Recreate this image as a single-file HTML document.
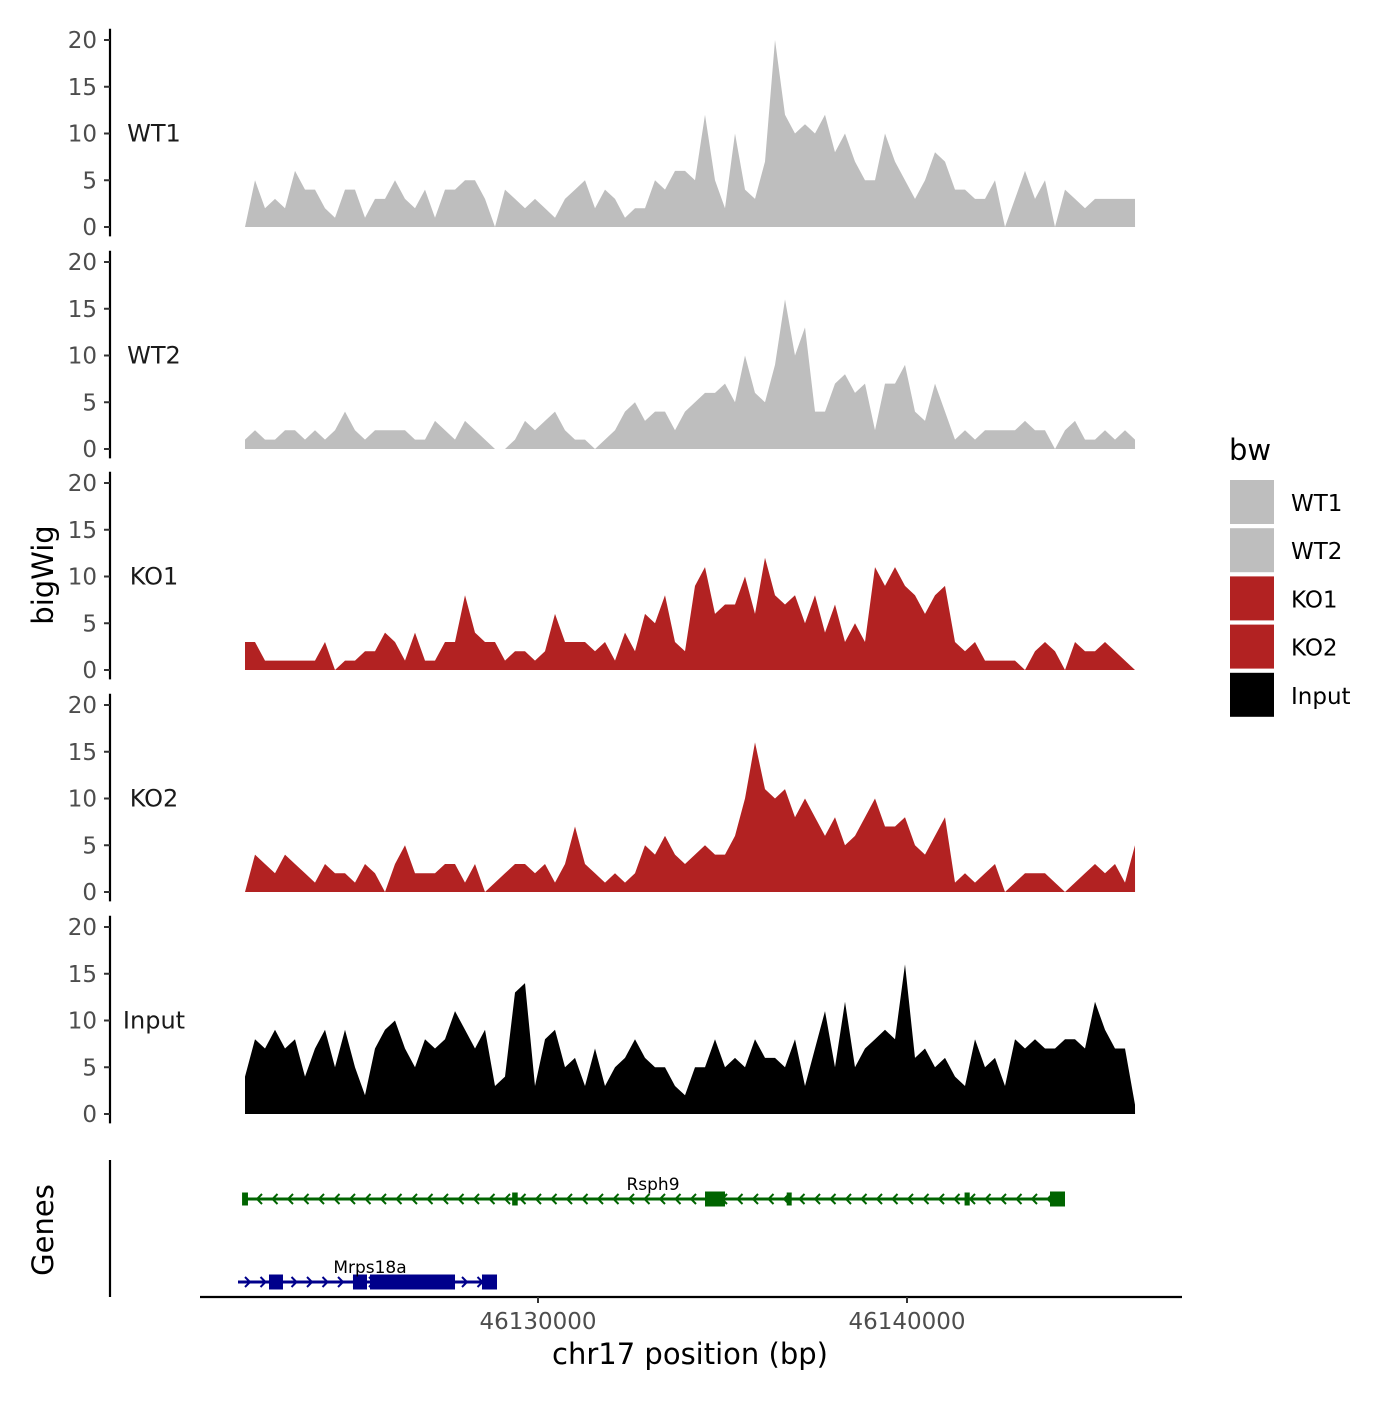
<!DOCTYPE html>
<html><head><meta charset="utf-8"><style>
body{margin:0;background:#fff}
svg{font-family:"DejaVu Sans","Liberation Sans",sans-serif}
</style></head><body>
<svg id="chart" width="1400" height="1400" viewBox="0 0 1400 1400"></svg>
<script>
const trackNames=["WT1","WT2","KO1","KO2","Input"];
const trackColors=["#bebebe","#bebebe","#b22222","#b22222","#000000"];
const yTicks=[0,5,10,15,20];
const xTicks=[46130000,46140000];
const wt1=[0,5,2,3,2,6,4,4,2,1,4,4,1,3,3,5,3,2,4,1,4,4,5,5,3,0,4,3,2,3,2,1,3,4,5,2,4,3,1,2,2,5,4,6,6,5,12,5,2,10,4,3,7,20,12,10,11,10,12,8,10,7,5,5,10,7,5,3,5,8,7,4,4,3,3,5,0,3,6,3,5,0,4,3,2,3,3,3,3,3];
const wt2=[1,2,1,1,2,2,1,2,1,2,4,2,1,2,2,2,2,1,1,3,2,1,3,2,1,0,0,1,3,2,3,4,2,1,1,0,1,2,4,5,3,4,4,2,4,5,6,6,7,5,10,6,5,9,16,10,13,4,4,7,8,6,7,2,7,7,9,4,3,7,4,1,2,1,2,2,2,2,3,2,2,0,2,3,1,1,2,1,2,1];
const ko1=[3,3,1,1,1,1,1,1,3,0,1,1,2,2,4,3,1,4,1,1,3,3,8,4,3,3,1,2,2,1,2,6,3,3,3,2,3,1,4,2,6,5,8,3,2,9,11,6,7,7,10,6,12,8,7,8,5,8,4,7,3,5,3,11,9,11,9,8,6,8,9,3,2,3,1,1,1,1,0,2,3,2,0,3,2,2,3,2,1,0];
const ko2=[0,4,3,2,4,3,2,1,3,2,2,1,3,2,0,3,5,2,2,2,3,3,1,3,0,1,2,3,3,2,3,1,3,7,3,2,1,2,1,2,5,4,6,4,3,4,5,4,4,6,10,16,11,10,11,8,10,8,6,8,5,6,8,10,7,7,8,5,4,6,8,1,2,1,2,3,0,1,2,2,2,1,0,1,2,3,2,3,1,5];
const inputV=[4,8,7,9,7,8,4,7,9,5,9,5,2,7,9,10,7,5,8,7,8,11,9,7,9,3,4,13,14,3,8,9,5,6,3,7,3,5,6,8,6,5,5,3,2,5,5,8,5,6,5,8,6,6,5,8,3,7,11,5,12,5,7,8,9,8,16,6,7,5,6,4,3,8,5,6,3,8,7,8,7,7,8,8,7,12,9,7,7,1];
const seriesList=[wt1,wt2,ko1,ko2,inputV];
const dataStart=46122060, dataEnd=46146180;
const geneNames=["Rsph9","Mrps18a"];
const geneStarts=[46122060,46121870];
const geneEnds=[46144080,46128889];
const rsph9ExonStarts=[46121980,46129300,46134526,46136740,46141560,46143875];
const rsph9ExonEnds=[46122140,46129450,46135068,46136860,46141700,46144282];
const mrpsExonStarts=[46122710,46124986,46125447,46128482];
const mrpsExonEnds=[46123089,46125366,46127751,46128889];

const NS="http://www.w3.org/2000/svg";
const svg=document.getElementById('chart');
function mk(tag,attrs,parent){const e=document.createElementNS(NS,tag);for(const k in attrs)e.setAttribute(k,attrs[k]);(parent||svg).appendChild(e);return e;}
function xs(bp){return 538+(bp-46130000)/10000*369;}
const panelZero=[227,449,670,892,1114];
function ys(i,v){return panelZero[i]-v*9.35;}

trackNames.forEach((name,i)=>{
  const g=mk('g',{});
  
  
  const vals=seriesList[i];const n=vals.length;
  let d='M'+xs(dataStart)+','+ys(i,0);
  vals.forEach((v,j)=>{const bp=dataStart+(dataEnd-dataStart)*j/(n-1);d+=' L'+xs(bp).toFixed(1)+','+ys(i,v).toFixed(1);});
  d+=' L'+xs(dataEnd)+','+ys(i,0)+' Z';
  const p=mk('path',{d:d,fill:trackColors[i]},g);
  
  
  const ax=mk('line',{x1:110,x2:110,y1:ys(i,21.2),y2:ys(i,-1),stroke:'#000','stroke-width':2.2},g);
  
  
  yTicks.forEach(t=>{
    mk('line',{x1:104,x2:110,y1:ys(i,t),y2:ys(i,t),stroke:'#333','stroke-width':2},g);
    const tx=mk('text',{x:97,y:ys(i,t)+8,'text-anchor':'end','font-size':23,fill:'#4d4d4d'},g);
    tx.textContent=t;
    
    
  });
  const lb=mk('text',{x:154,y:ys(i,10)+8,'text-anchor':'middle','font-size':24,fill:'#1a1a1a'},g);
  lb.textContent=name;
  
  
});

const gy=[1199,1282], gc=['#006400','#00008b'];
geneNames.forEach((gname,k)=>{
  const g=mk('g',{});
  
  
  const x1=xs(geneStarts[k]),x2=xs(geneEnds[k]);
  mk('line',{x1:x1,x2:x2,y1:gy[k],y2:gy[k],stroke:gc[k],'stroke-width':3},g);
  for(let x=x1+12;x<x2-6;x+=15.5){
    const dir=k===0?-1:1;
    mk('polyline',{points:`${x-dir*5},${gy[k]-5} ${x},${gy[k]} ${x-dir*5},${gy[k]+5}`,fill:'none',stroke:gc[k],'stroke-width':2},g);
  }
  const s=k===0?rsph9ExonStarts:mrpsExonStarts, e=k===0?rsph9ExonEnds:mrpsExonEnds;
  s.forEach((b,j)=>{
    const h=k===0?(j===2||j===5?15:13):15;
    const w=Math.max(xs(e[j])-xs(b),5);
    const r=mk('rect',{x:xs(b),y:gy[k]-h/2,width:w,height:h,fill:gc[k]},g);
    
    
  });
  const t=mk('text',{x:k===0?653:370,y:gy[k]-9,'text-anchor':'middle','font-size':17,fill:'#000'},g);
  t.textContent=gname;
  
  
});
const gax=mk('line',{x1:110,x2:110,y1:1160,y2:1297,stroke:'#000','stroke-width':2.2});


const xax=mk('line',{x1:200,x2:1182,y1:1297,y2:1297,stroke:'#000','stroke-width':2.2});


xTicks.forEach(t=>{
  mk('line',{x1:xs(t),x2:xs(t),y1:1297,y2:1303,stroke:'#333','stroke-width':2});
  const tx=mk('text',{x:xs(t),y:1329,'text-anchor':'middle','font-size':23,fill:'#4d4d4d'});
  tx.textContent=t;
  
  
});
const xt=mk('text',{x:690,y:1364,'text-anchor':'middle','font-size':29,fill:'#000'});
xt.textContent='chr17 position (bp)';


const yt=mk('text',{x:0,y:0,'text-anchor':'middle','font-size':29,fill:'#000',transform:'translate(53,575) rotate(-90)'});
yt.textContent='bigWig';


const gt=mk('text',{x:0,y:0,'text-anchor':'middle','font-size':29,fill:'#000',transform:'translate(53,1230) rotate(-90)'});
gt.textContent='Genes';


const lt=mk('text',{x:1229,y:460,'font-size':29,fill:'#000'});
lt.textContent='bw';


trackNames.forEach((name,i)=>{
  const g=mk('g',{});
  
  
  const y=480+i*48.2;
  mk('rect',{x:1230,y:y,width:44,height:44,fill:trackColors[i]},g);
  const t=mk('text',{x:1291,y:y+31,'font-size':23,fill:'#000'},g);
  t.textContent=name;
});
</script>
</body></html>
